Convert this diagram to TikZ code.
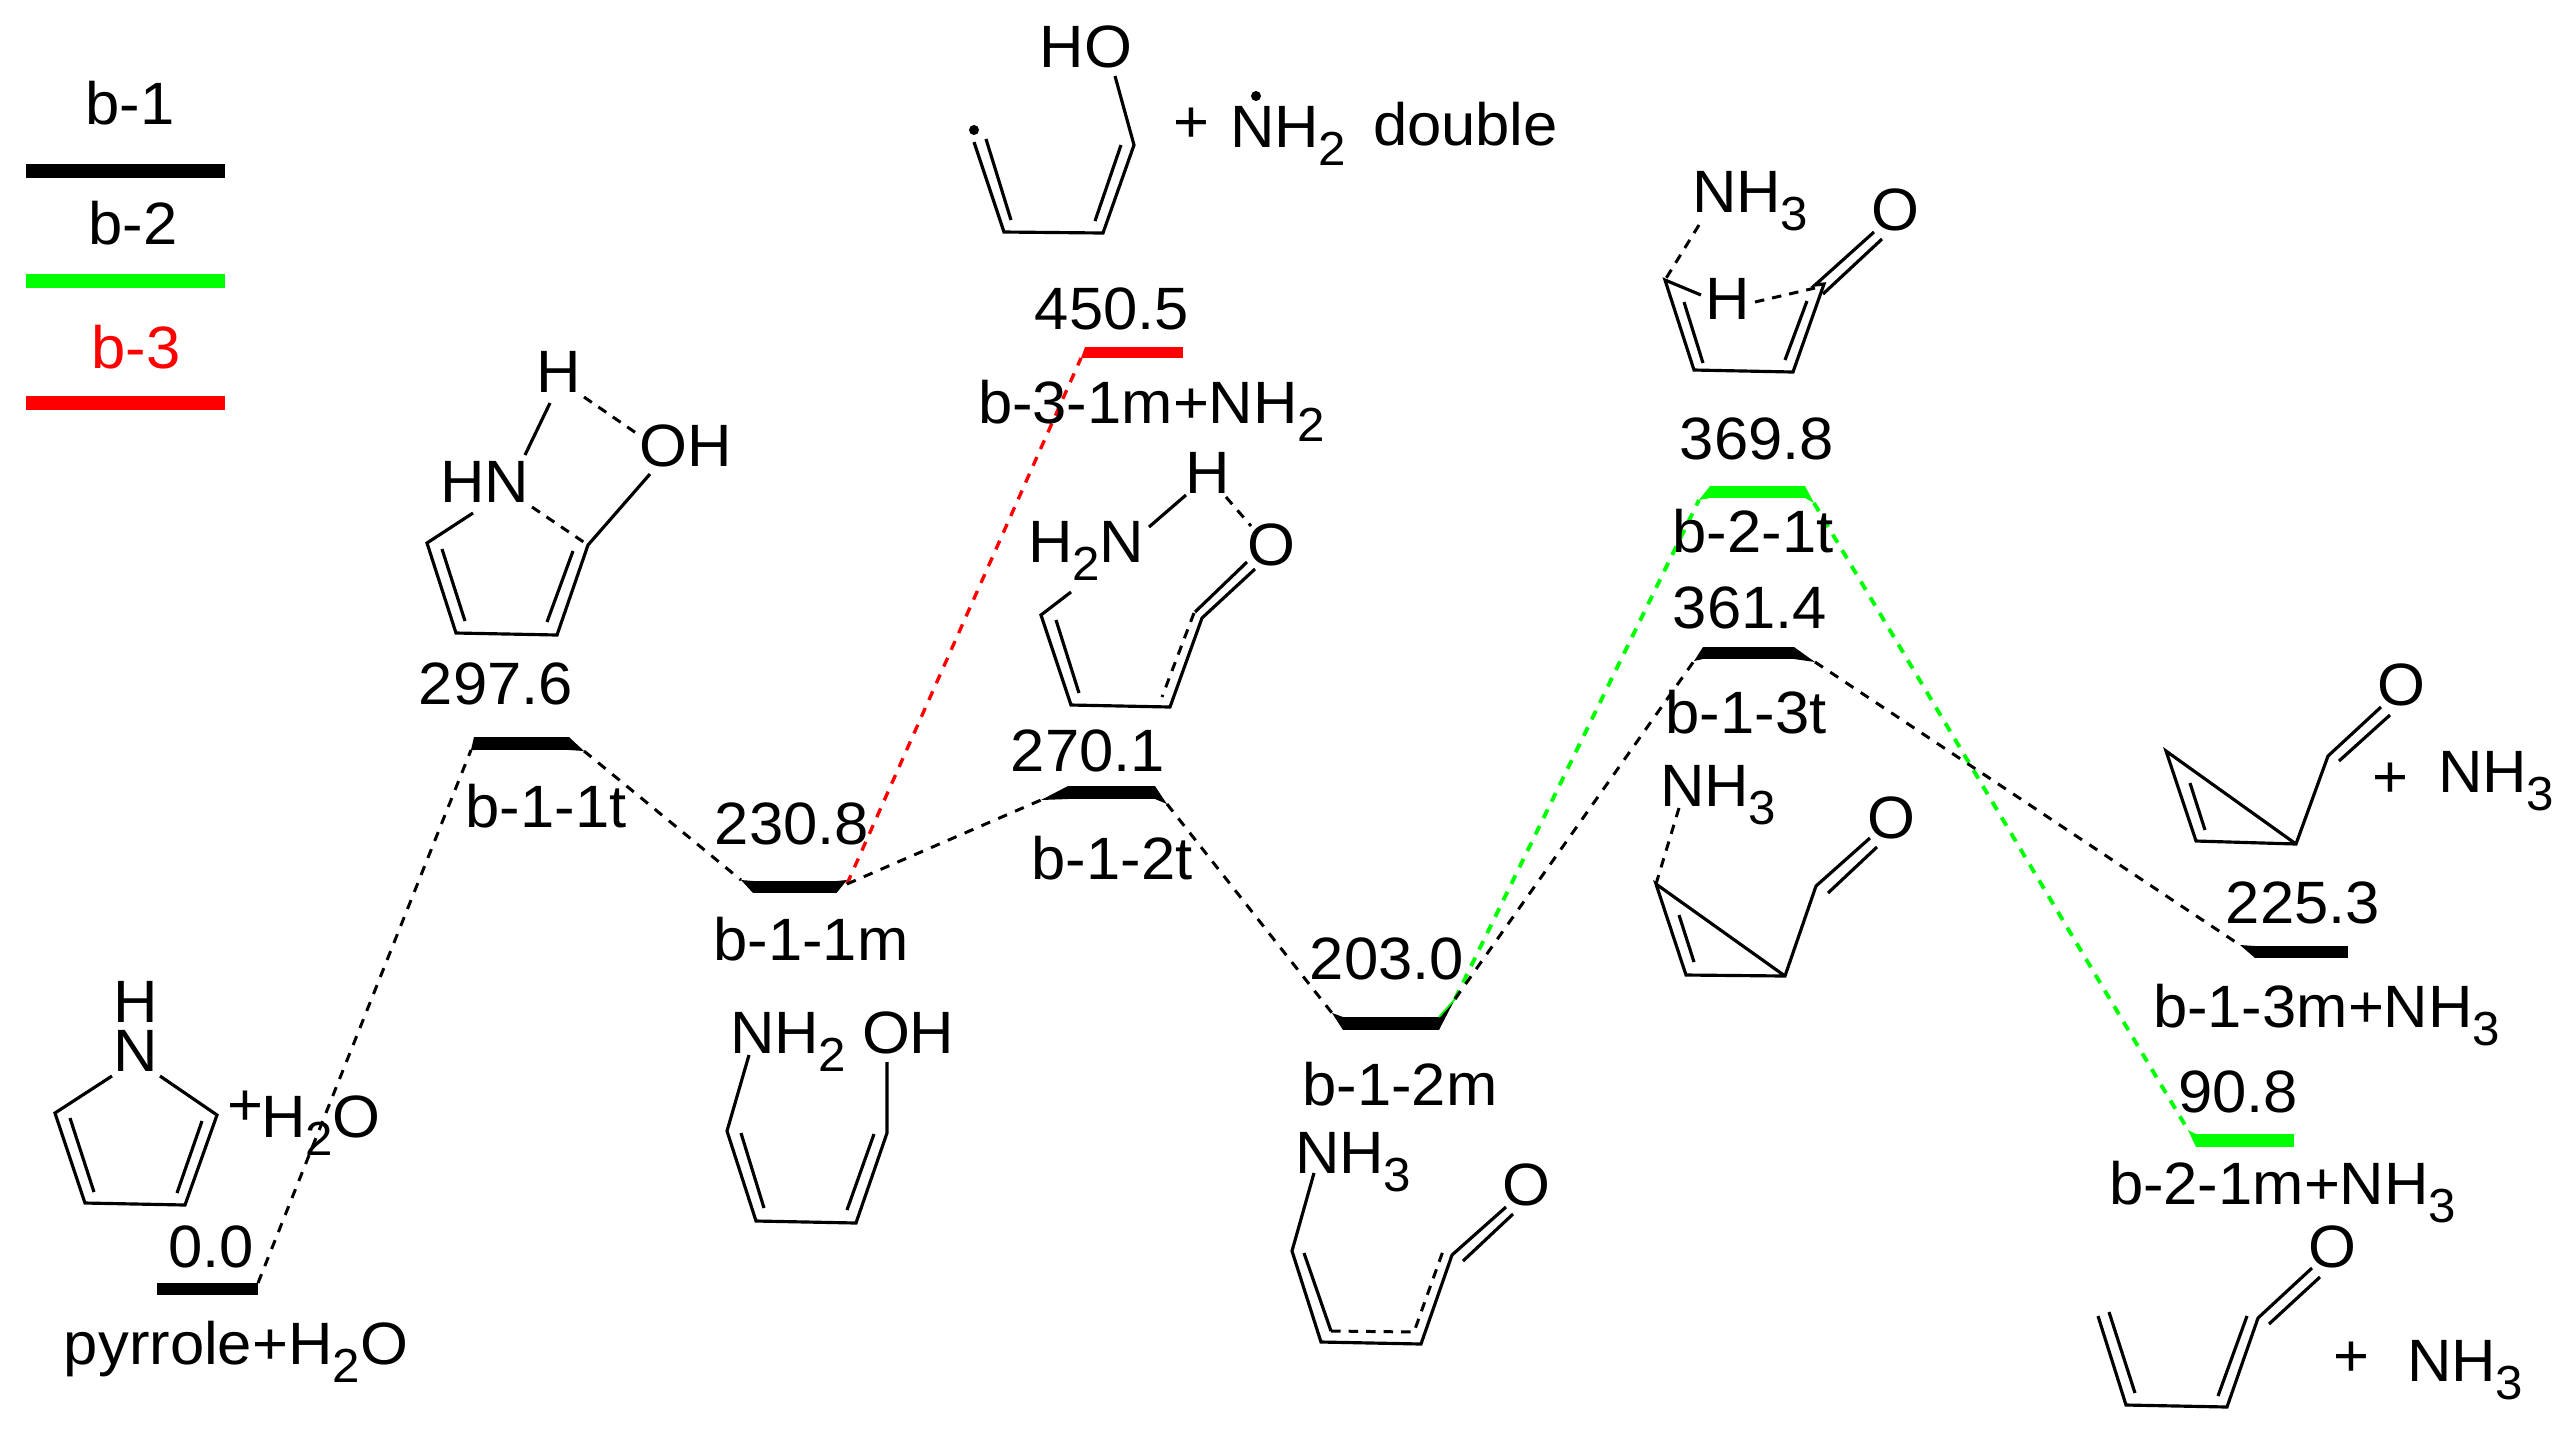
\documentclass[tikz,border=0pt]{standalone}
\usepackage{fontspec}
\setmainfont[FakeStretch=1.03]{Liberation Sans}
\definecolor{lgreen}{RGB}{0,255,0}
\definecolor{lred}{RGB}{255,0,0}
\newcommand{\chemsub}[1]{\raisebox{-0.31em}{\fontsize{13.6pt}{15pt}\selectfont #1}}
\newcommand{\lvlbar}[6]{\node[lvl,fill=#2,minimum width={(#4-#3)*0.01cm},minimum height={(#6-#5)*0.01cm}] (#1) at ({(#3+#4)/2},{(#5+#6)/2}) {};}
\tikzset{
  lab/.style={inner sep=0pt,outer sep=0pt,font=\fontsize{17pt}{20pt}\selectfont},
  labb/.style={lab,anchor=base west},
  lvl/.style={inner sep=0pt,outer sep=0pt,rectangle,draw=none},
  conn/.style={line width=0.85pt,dash pattern=on 0.095cm off 0.088cm},
  gconn/.style={conn,line width=1.1pt,lgreen},
  rconn/.style={conn,line width=0.95pt,lred},
  bond/.style={line width=0.9pt,line join=miter},
  dbond/.style={line width=0.85pt,dash pattern=on 0.095cm off 0.08cm},
}
\begin{document}
\begin{tikzpicture}[x=0.01cm,y=-0.01cm]
\useasboundingbox (0,0) rectangle (2571,1432);
% legend
\node[lab] (legA) at (130,103) {b-1};
\node[lab] (legB) at (133,223) {b-2};
\node[lab,text=lred] (legC) at (136,347) {b-3};
\lvlbar{legAbar}{black}{26}{225}{164}{178}
\lvlbar{legBbar}{lgreen}{26}{225}{274}{288}
\lvlbar{legCbar}{lred}{26}{225}{396}{410}
% levels
\lvlbar{lv0}{black}{157}{258}{1283}{1295}
\lvlbar{lvAt}{black}{474}{569}{737}{750}
\lvlbar{lvAm}{black}{753}{836.5}{881}{893}
\lvlbar{lvBt}{black}{1068}{1155}{786}{799}
\lvlbar{lvBm}{black}{1343}{1439}{1017}{1030}
\lvlbar{lvR}{lred}{1085}{1183}{347}{358}
\lvlbar{lvGt}{lgreen}{1710}{1805}{486}{498}
\lvlbar{lvCt}{black}{1703}{1794}{647}{659}
\lvlbar{lvCm}{black}{2255}{2348}{946}{958}
\lvlbar{lvGm}{lgreen}{2196}{2294}{1134}{1147}
% tips
\coordinate (tAtL) at (471,750);
\coordinate (tAtR) at (584,751);
\coordinate (tAmL) at (741,880);
\coordinate (tAmR) at (847,880);
\coordinate (tAmRr) at (847,884);
\coordinate (tBtL) at (1041,800);
\coordinate (tBtR) at (1167,804);
\coordinate (tBmL) at (1332,1013);
\coordinate (tBmR) at (1455,999);
\coordinate (tRL) at (1081,358);
\coordinate (tGtL) at (1699,500);
\coordinate (tGtR) at (1814,503);
\coordinate (tCtL) at (1694,661);
\coordinate (tCtR) at (1815,662);
\coordinate (tCmL) at (2240,945);
\coordinate (tGmL) at (2188,1130);
% wedges
\fill (lvAt.north west) -- (tAtL) -- (lvAt.south west) -- cycle;
\fill (lvAt.north east) -- (tAtR) -- (lvAt.south east) -- cycle;
\fill (lvAm.north west) -- (tAmL) -- (lvAm.south west) -- cycle;
\fill (lvAm.north east) -- (tAmR) -- (lvAm.south east) -- cycle;
\fill (lvBt.north west) -- (tBtL) -- (lvBt.south west) -- cycle;
\fill (lvBt.north east) -- (tBtR) -- (lvBt.south east) -- cycle;
\fill (lvBm.north west) -- (tBmL) -- (lvBm.south west) -- cycle;
\fill (lvBm.north east) -- (tBmR) -- (lvBm.south east) -- cycle;
\draw[lgreen,line width=0.5pt] (lvBm.north east) -- (tBmR);
\fill[lred] (lvR.north west) -- (tRL) -- (lvR.south west) -- cycle;
\fill[lgreen] (lvGt.north west) -- (tGtL) -- (lvGt.south west) -- cycle;
\fill[lgreen] (lvGt.north east) -- (tGtR) -- (lvGt.south east) -- cycle;
\fill (lvCt.north west) -- (tCtL) -- (lvCt.south west) -- cycle;
\fill (lvCt.north east) -- (tCtR) -- (lvCt.south east) -- cycle;
\fill (lvCm.north west) -- (tCmL) -- (lvCm.south west) -- cycle;
\fill[lgreen] (lvGm.north west) -- (tGmL) -- (lvGm.south west) -- cycle;
% connectors
\draw[conn] (lv0.north east) -- (tAtL);
\draw[conn] (tAtR) -- (tAmL);
\draw[rconn] (tAmRr) -- (tRL);
\draw[conn] (tAmRr) -- (tBtL);
\draw[conn] (tBtR) -- (tBmL);
\draw[gconn] (tBmR) -- (tGtL);
\draw[conn] (tBmR) -- (tCtL);
\draw[gconn] (tGtR) -- (tGmL);
\draw[conn] (tCtR) -- (tCmL);
% level labels
\node[lab] (e0) at (211,1247) {0.0};
\node[lab] (eAt) at (496,684) {297.6};
\node[lab] (eAm) at (792,824) {230.8};
\node[lab] (eBt) at (1088,751) {270.1};
\node[lab] (eBm) at (1387,959) {203.0};
\node[lab] (eR) at (1112,309) {450.5};
\node[lab] (eGt) at (1757,439) {369.8};
\node[lab] (eCt) at (1750,608) {361.4};
\node[lab] (eCm) at (2303,903) {225.3};
\node[lab] (eGm) at (2238,1092) {90.8};
\node[labb] (n0) at (64,1364) {pyrrole+H\chemsub{2}O};
\node[lab] (nAt) at (546,806) {b-1-1t};
\node[lab] (nAm) at (811,939) {b-1-1m};
\node[lab] (nBt) at (1112,858) {b-1-2t};
\node[lab] (nBm) at (1400,1084) {b-1-2m};
\node[labb] (nR) at (978,423) {b-3-1m+NH\chemsub{2}};
\node[lab] (nGt) at (1753,531) {b-2-1t};
\node[lab] (nCt) at (1746,712) {b-1-3t};
\node[labb] (nCm) at (2153,1027) {b-1-3m+NH\chemsub{3}};
\node[labb] (nGm) at (2109,1204) {b-2-1m+NH\chemsub{3}};
% pyrrole + H2O
\node[lab] (pH) at (136,1002) {H};
\node[lab] (pN) at (136,1051) {N};
\node[lab] (pPlus) at (245,1108) {+};
\node[labb] (pW) at (261,1137) {H\chemsub{2}O};
\draw[bond] (112,1076) -- (55,1113) -- (85,1203) -- (185,1205) -- (217,1115) -- (160,1076);
\draw[bond] (70,1118) -- (94,1192);
\draw[bond] (202,1121) -- (177,1193);
% TS b-1-1t
\node[lab] (aH) at (559,372) {H};
\node[lab] (aOH) at (686,446) {OH};
\node[lab] (aHN) at (485,482) {HN};
\draw[bond] (473,513) -- (427,543) -- (456,633) -- (557,635) -- (588,545) -- (650,474);
\draw[bond] (442,549) -- (465,621);
\draw[bond] (573,551) -- (547,622);
\draw[bond] (525,455) -- (550,403);
\draw[dbond] (532,507) -- (588,545);
\draw[dbond] (584,397) -- (639,435);
% b-1-1m
\node[labb] (bN) at (730,1053) {NH\chemsub{2}};
\node[labb] (bO) at (862,1053) {OH};
\draw[bond] (749,1055) -- (727,1131) -- (756,1221) -- (856,1223) -- (887,1133) -- (887,1062);
\draw[bond] (741,1133) -- (764,1208);
\draw[bond] (874,1134) -- (847,1210);
% b-3-1m + NH2
\node[lab] (cHO) at (1086,47) {HO};
\node[lab] (cPlus) at (1191,125) {+};
\node[labb] (cN) at (1230,147) {NH\chemsub{2}};
\node[labb] (cD) at (1373,145) {double};
\fill (974,130) circle (0.05cm);
\fill (1256,96) circle (0.05cm);
\draw[bond] (974,142) -- (1004,232) -- (1103,233) -- (1134,145) -- (1115,76);
\draw[bond] (986,139) -- (1011,220);
\draw[bond] (1121,145) -- (1095,221);
% TS b-1-2t
\node[lab] (dH) at (1208,473) {H};
\node[labb] (dN) at (1028,562) {H\chemsub{2}N};
\node[lab] (dO) at (1271,545) {O};
\draw[bond] (1149,527) -- (1186,495);
\draw[dbond] (1226,497) -- (1251,526);
\draw[bond] (1071,592) -- (1041,615) -- (1071,705) -- (1170,707) -- (1202,618) -- (1255,569);
\draw[bond] (1195,612) -- (1247,562);
\draw[bond] (1056,620) -- (1079,693);
\draw[dbond] (1194,613) -- (1162,697);
% b-1-2m
\node[labb] (eN) at (1295,1173) {NH\chemsub{3}};
\node[lab] (eO) at (1526,1185) {O};
\draw[bond] (1314,1173) -- (1292,1251) -- (1321,1342) -- (1421,1344) -- (1452,1255) -- (1506,1207);
\draw[bond] (1304,1253) -- (1331,1331);
\draw[dbond] (1331,1331) -- (1414,1332) -- (1443,1251);
\draw[bond] (1463,1261) -- (1513,1214);
% TS b-2-1t
\node[labb] (fN) at (1692,212) {NH\chemsub{3}};
\node[lab] (fO) at (1895,210) {O};
\node[lab] (fH) at (1728,299) {H};
\draw[dbond] (1755,302) -- (1815,288);
\draw[bond] (1874,232) -- (1815,285) -- (1824,284) -- (1793,372) -- (1694,370) -- (1665,280) -- (1701,295);
\draw[bond] (1823,294) -- (1882,239);
\draw[bond] (1684,302) -- (1703,363);
\draw[bond] (1807,301) -- (1785,360);
\draw[dbond] (1699,225) -- (1665,280);
% TS b-1-3t
\node[labb] (gN) at (1660,806) {NH\chemsub{3}};
\node[lab] (gO) at (1891,818) {O};
\draw[dbond] (1679,808) -- (1656,884);
\draw[bond] (1785,976) -- (1656,884) -- (1686,975) -- (1785,976) -- (1816,886) -- (1870,838);
\draw[bond] (1828,893) -- (1877,847);
\draw[bond] (1679,915) -- (1694,962);
% b-1-3m + NH3
\node[lab] (hO) at (2401,685) {O};
\node[lab] (hPlus) at (2390,780) {+};
\node[labb] (hN) at (2438,792) {NH\chemsub{3}};
\draw[bond] (2296,844) -- (2166,751) -- (2196,841) -- (2296,844) -- (2328,756) -- (2381,707);
\draw[bond] (2339,761) -- (2390,715);
\draw[bond] (2190,783) -- (2205,830);
% b-2-1m + NH3
\node[lab] (iO) at (2332,1247) {O};
\node[lab] (iPlus) at (2351,1359) {+};
\node[labb] (iN) at (2407,1381) {NH\chemsub{3}};
\draw[bond] (2098,1316) -- (2126,1405) -- (2227,1407) -- (2258,1318) -- (2312,1268);
\draw[bond] (2269,1324) -- (2320,1277);
\draw[bond] (2109,1312) -- (2135,1393);
\draw[bond] (2247,1316) -- (2218,1396);
\end{tikzpicture}
\end{document}
